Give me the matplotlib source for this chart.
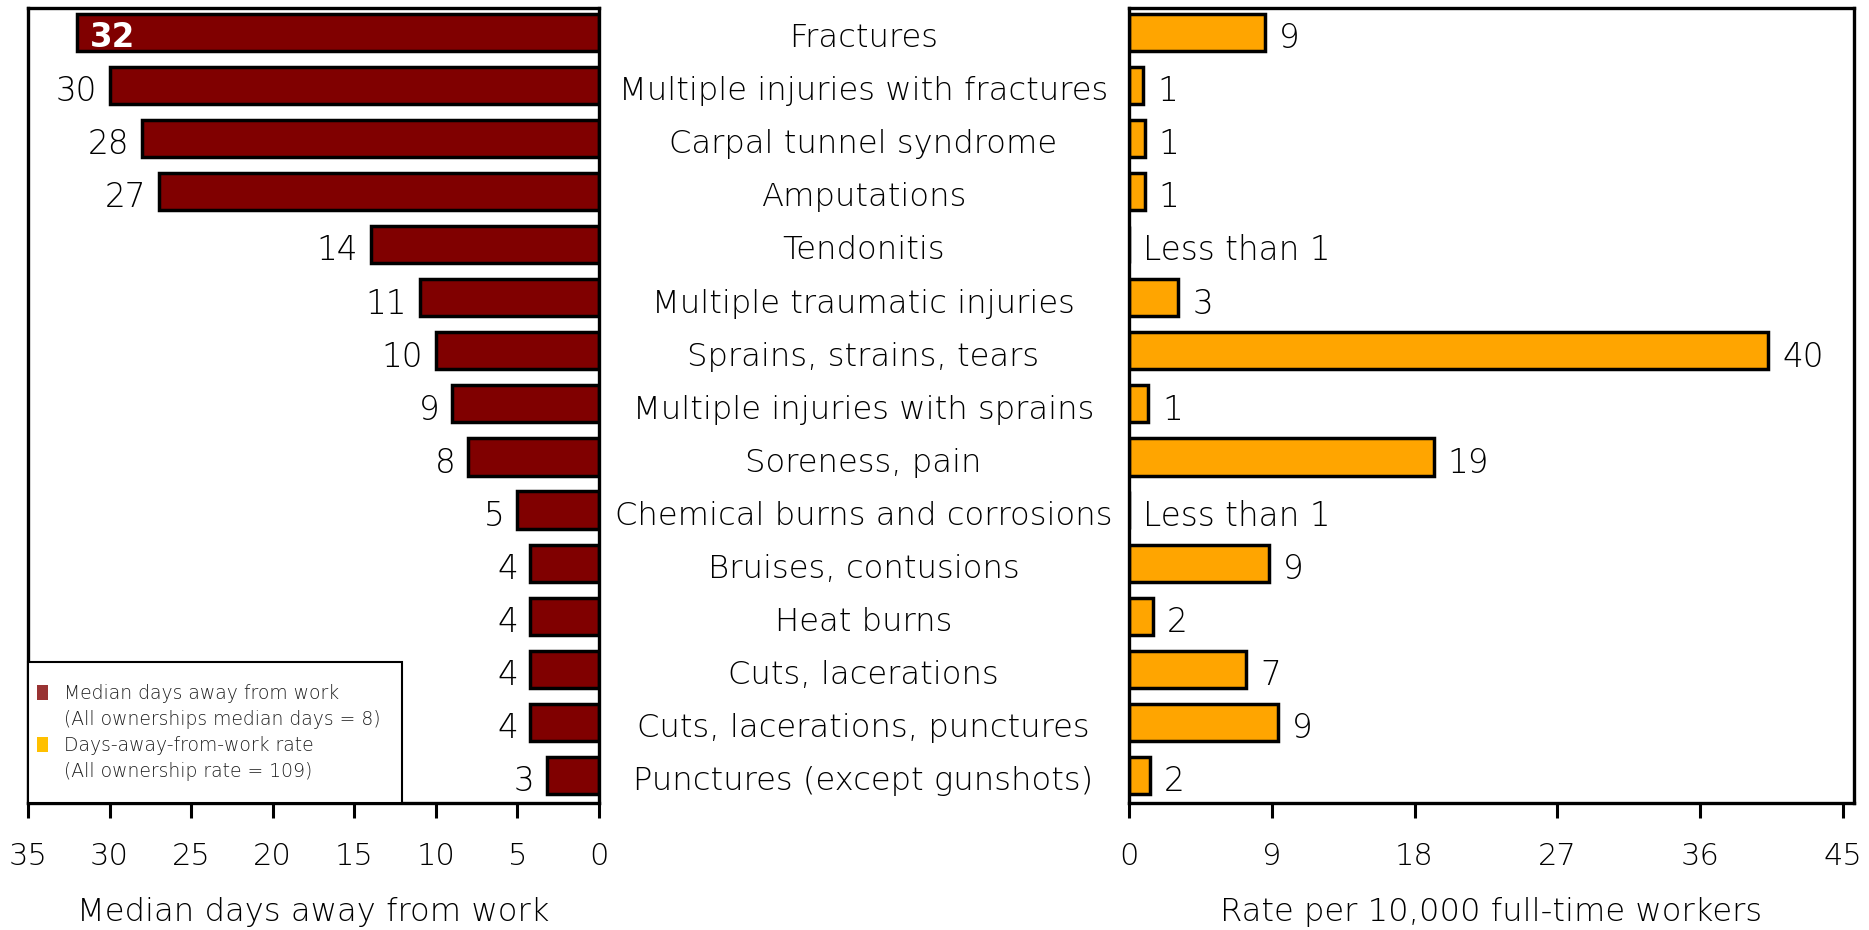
import matplotlib
matplotlib.use("Agg")
import matplotlib.pyplot as plt
from matplotlib.patches import Patch, Rectangle
from matplotlib import transforms

# ----------------------------------------------
# 1. Data
# ----------------------------------------------

categories = [
    "Fractures",
    "Multiple injuries with fractures",
    "Carpal tunnel syndrome",
    "Amputations",
    "Tendonitis",
    "Multiple traumatic injuries",
    "Sprains, strains, tears",
    "Multiple injuries with sprains",
    "Soreness, pain",
    "Chemical burns and corrosions",
    "Bruises, contusions",
    "Heat burns",
    "Cuts, lacerations",
    "Cuts, lacerations, punctures",
    "Punctures (except gunshots)",
]

median_days = [32, 30, 28, 27, 14, 11, 10, 9, 8, 5, 4.2, 4.2, 4.2, 4.2, 3.2]
median_labels = ["32", "30", "28", "27", "14", "11", "10", "9", "8", "5",
                 "4", "4", "4", "4", "3"]

rate = [8.6, 0.9, 1.0, 1.0, 0, 3.1, 40.3, 1.2, 19.2, 0, 8.8, 1.5, 7.4, 9.4, 1.3]
rate_labels = ["9", "1", "1", "1", "Less than 1", "3", "40", "1", "19",
               "Less than 1", "9", "2", "7", "9", "2"]

left_ticks = [35, 30, 25, 20, 15, 10, 5, 0]
right_ticks = [0, 9, 18, 27, 36, 45]

legend_labels = [
    "Median days away from work",
    "(All ownerships median days = 8)",
    "Days-away-from-work rate",
    "(All ownership rate = 109)",
]

MAROON = "#800000"
ORANGE = "#FFA500"

# ----------------------------------------------
# 2. Figure layout
# ----------------------------------------------

W, H = 1869, 930
fig = plt.figure(figsize=(W / 100, H / 100), dpi=100)

bottom = (H - 803) / H
height = 795 / H
ax_l = fig.add_axes([28 / W, bottom, 571 / W, height])
ax_r = fig.add_axes([1129 / W, bottom, 725 / W, height])

y = list(range(len(categories)))
bar_h = 0.7
tick_fs = 22
lab_fs = 23.5
cat_fs = 23.2
xlab_fs = 23.2
LIGHT = "light"

# ----------------------------------------------
# 3. Left panel: median days
# ----------------------------------------------

ax_l.barh(y, median_days, height=bar_h, color=MAROON, edgecolor="black",
          linewidth=2.5, zorder=2)
ax_l.set_xlim(35, 0)
ax_l.set_ylim(14.52, -0.46)

for i, (v, s) in enumerate(zip(median_days, median_labels)):
    if i == 0:
        ax_l.annotate(s, (v, i), xytext=(9, -1), textcoords="offset points",
                      ha="left", va="center_baseline", fontsize=23.5,
                      fontweight="bold", color="white", zorder=3)
    else:
        ax_l.annotate(s, (v, i), xytext=(-9, -2), textcoords="offset points",
                      ha="right", va="center_baseline", fontsize=lab_fs,
                      fontweight=LIGHT, color="black")

ax_l.set_xticks(left_ticks)
ax_l.set_xlabel("Median days away from work", fontsize=xlab_fs,
                fontweight=LIGHT)
ax_l.xaxis.set_label_coords(0.5, -0.118)

# legend box in the lower left corner
ax_l.add_patch(Rectangle((0, 0), 0.655, 0.177, transform=ax_l.transAxes,
                         facecolor="white", edgecolor="black", linewidth=1.5,
                         zorder=4, clip_on=False))
handles = [
    Patch(facecolor="#993333", edgecolor="none"),
    Patch(facecolor="none", edgecolor="none"),
    Patch(facecolor="#FFC000", edgecolor="none"),
    Patch(facecolor="none", edgecolor="none"),
]
leg = ax_l.legend(handles, legend_labels, loc="upper left",
                  bbox_to_anchor=(0.0158, 0.150), frameon=False,
                  prop={"size": 13.5, "weight": LIGHT},
                  handlelength=0.59, handleheight=0.85,
                  handletextpad=0.85, labelspacing=0.37, borderpad=0,
                  borderaxespad=0)
leg.set_zorder(5)
for t in leg.get_texts():
    t.set_color("#1e1e1e")

# ----------------------------------------------
# 4. Right panel: rate
# ----------------------------------------------

ax_r.barh(y, rate, height=bar_h, color=ORANGE, edgecolor="black",
          linewidth=2.5, zorder=2)
ax_r.set_xlim(0, 45.7)
ax_r.set_ylim(14.52, -0.46)

for i, (v, s) in enumerate(zip(rate, rate_labels)):
    ax_r.annotate(s, (v, i), xytext=(10, -2), textcoords="offset points",
                  ha="left", va="center_baseline", fontsize=lab_fs,
                  fontweight=LIGHT, color="black")

ax_r.set_xticks(right_ticks)
ax_r.set_xlabel("Rate per 10,000 full-time workers", fontsize=xlab_fs,
                fontweight=LIGHT)
ax_r.xaxis.set_label_coords(0.5, -0.118)

# ----------------------------------------------
# 5. Shared styling + category labels in the gap
# ----------------------------------------------

for ax in (ax_l, ax_r):
    ax.set_yticks([])
    for sp in ax.spines.values():
        sp.set_linewidth(2.4)
    ax.tick_params(axis="x", direction="out", length=11, width=2.2,
                   labelsize=tick_fs, pad=17)
    for lbl in ax.get_xticklabels():
        lbl.set_fontweight(LIGHT)

trans = transforms.blended_transform_factory(fig.transFigure, ax_l.transData)
mid_x = (599 + 1128) / 2 / W
for i, c in enumerate(categories):
    ax_l.annotate(c, (mid_x, i), xycoords=trans, xytext=(0, -2),
                  textcoords="offset points", ha="center",
                  va="center_baseline", fontsize=cat_fs, fontweight=LIGHT,
                  annotation_clip=False)

fig.savefig("out.png", dpi=100)
plt.close(fig)
